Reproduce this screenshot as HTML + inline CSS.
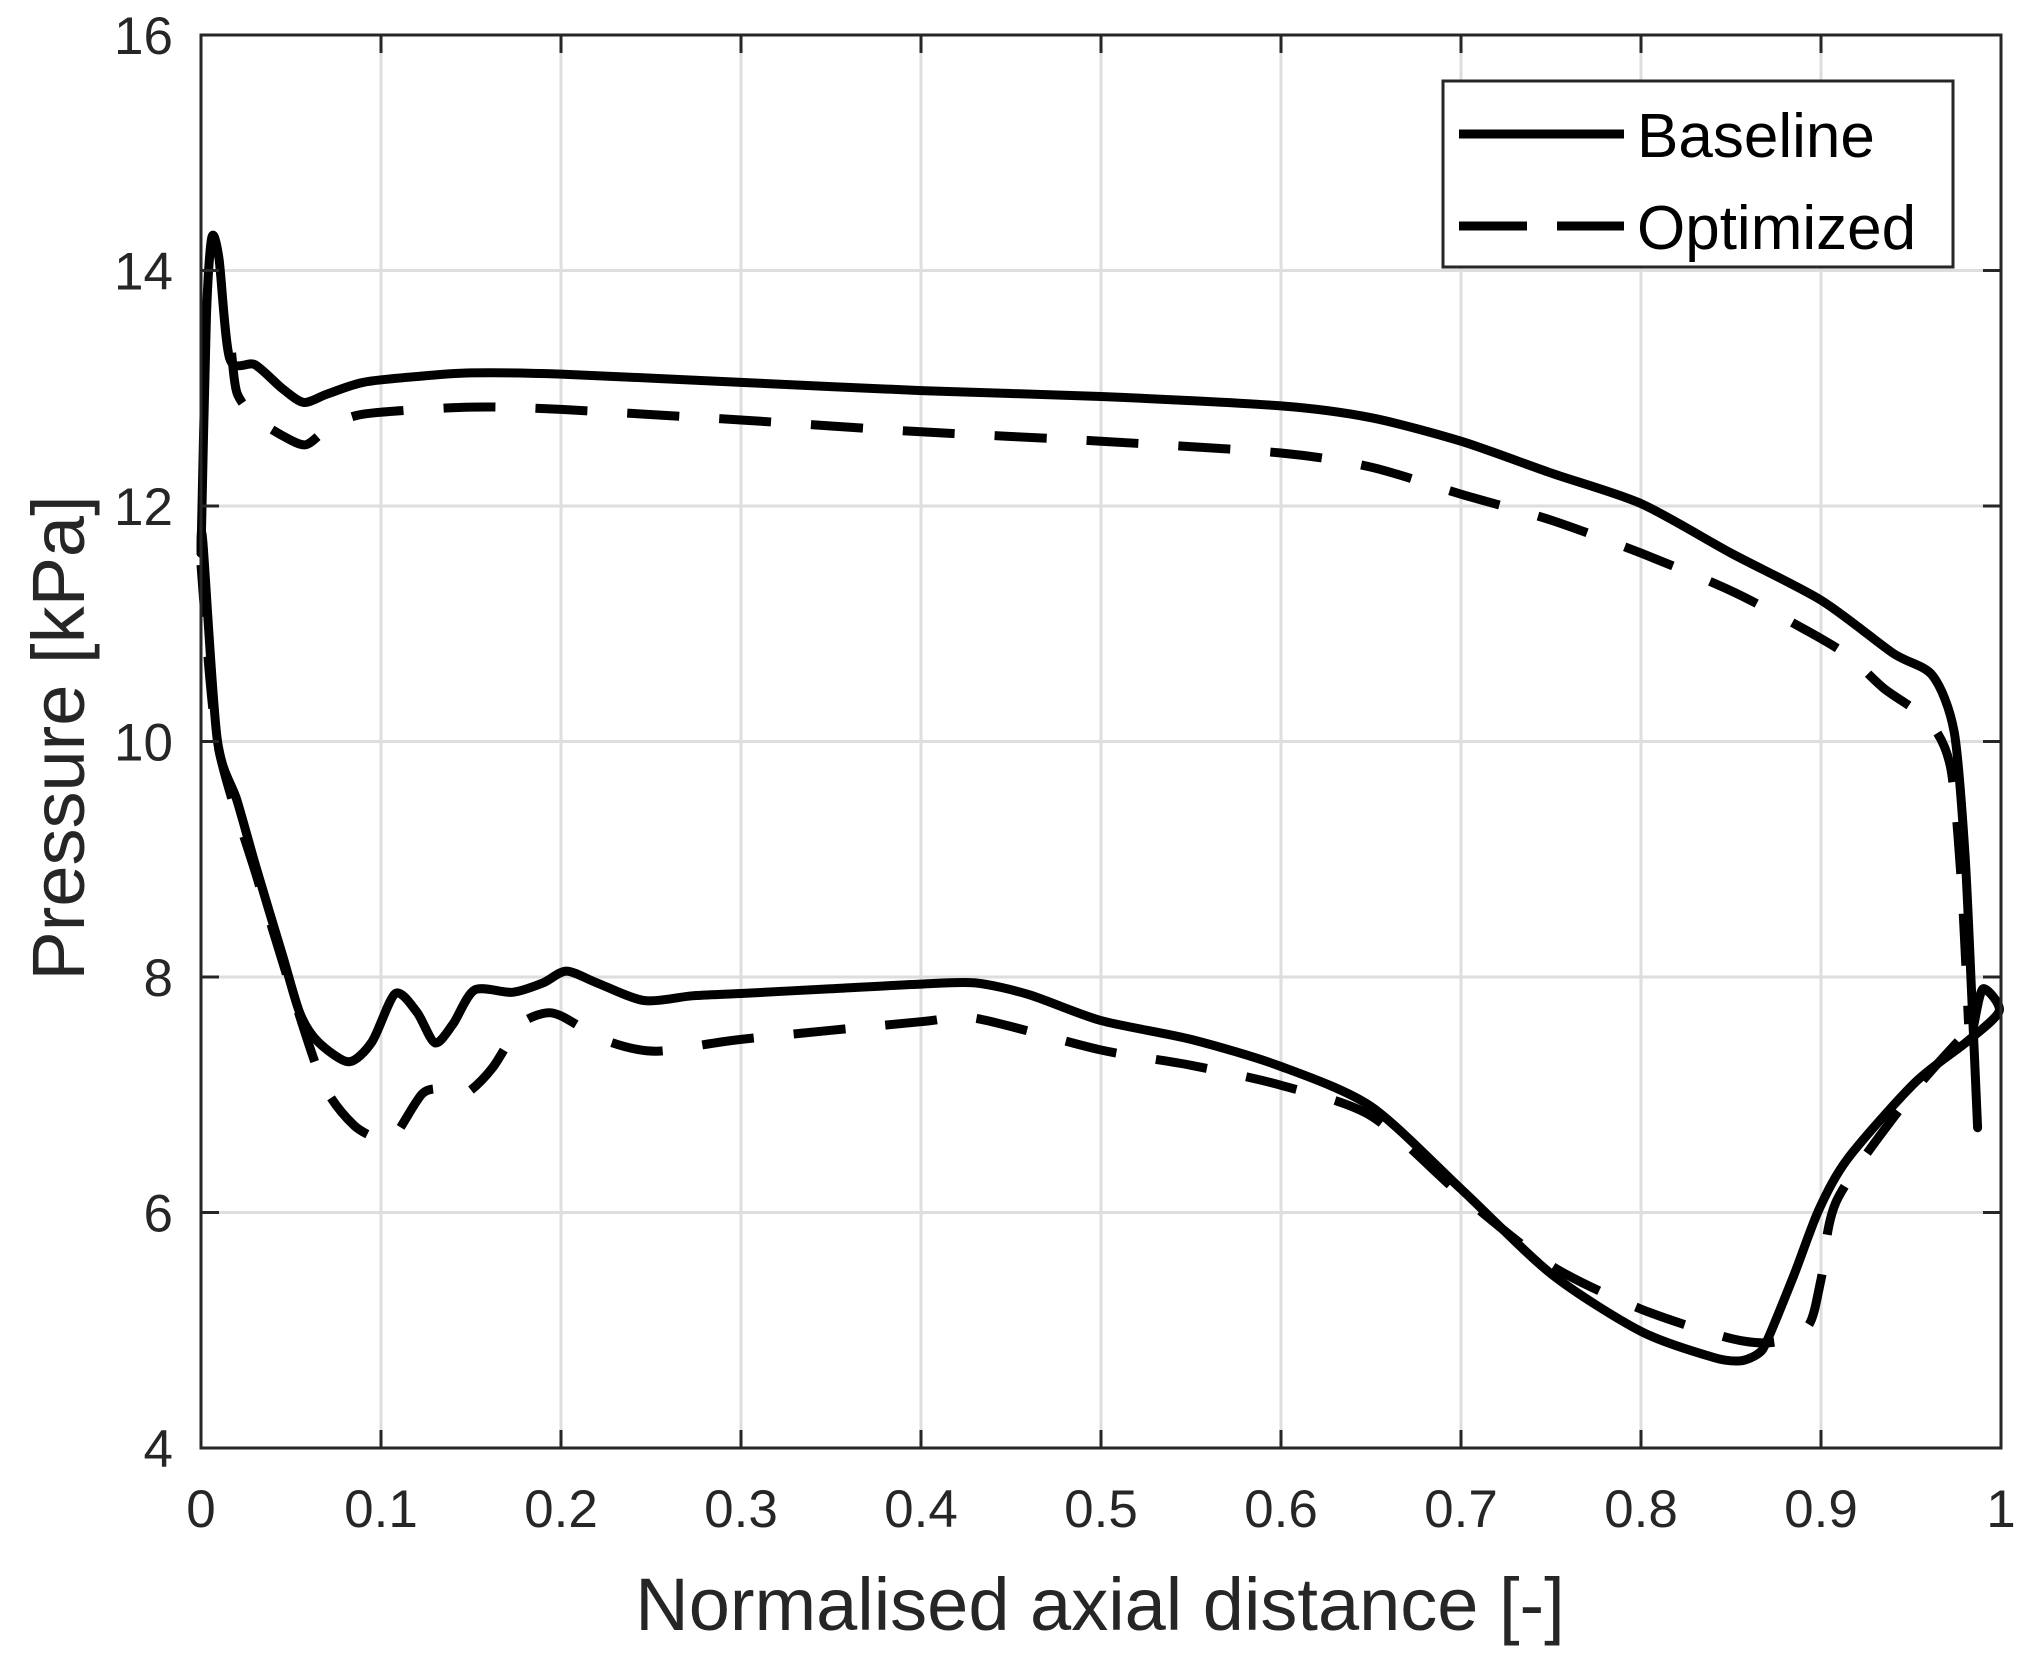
<!DOCTYPE html>
<html><head><meta charset="utf-8"><style>
html,body{margin:0;padding:0;background:#fff;}
svg{display:block;}
text{font-family:"Liberation Sans",Arial,sans-serif;fill:#262626;}
</style></head><body>
<svg id="chart" width="2024" height="1663" viewBox="0 0 2024 1663" xmlns="http://www.w3.org/2000/svg"></svg>
<script>
const xTicks = [0, 0.1, 0.2, 0.3, 0.4, 0.5, 0.6, 0.7, 0.8, 0.9, 1];
const xTickLabels = ["0","0.1","0.2","0.3","0.4","0.5","0.6","0.7","0.8","0.9","1"];
const yTicks = [4, 6, 8, 10, 12, 14, 16];
const yTickLabels = ["4","6","8","10","12","14","16"];

const baseUpperX = [0,0.003,0.006,0.01,0.016,0.03,0.045,0.057,0.07,0.09,0.12,0.15,0.2,0.3,0.4,0.5,0.6,0.65,0.7,0.75,0.8,0.85,0.9,0.94,0.962,0.974,0.98,0.984,0.987];
const baseUpperY = [11.6,13.6,14.28,14.1,13.25,13.2,13.0,12.88,12.95,13.05,13.1,13.13,13.12,13.05,12.98,12.93,12.85,12.75,12.55,12.28,12.02,11.6,11.2,10.75,10.56,10.08,9.04,7.75,6.72];
const baseLowerX = [0,0.001,0.009,0.02,0.031,0.045,0.055,0.065,0.082,0.095,0.108,0.12,0.13,0.14,0.152,0.173,0.19,0.203,0.22,0.246,0.273,0.3,0.35,0.4,0.43,0.46,0.5,0.55,0.6,0.65,0.7,0.75,0.8,0.84,0.855,0.865,0.87,0.885,0.899,0.915,0.952,0.981,0.999,0.99,0.985];
const baseLowerY = [11.6,11.7,10.02,9.5,8.91,8.2,7.69,7.45,7.28,7.45,7.86,7.7,7.44,7.6,7.89,7.87,7.95,8.05,7.95,7.8,7.84,7.86,7.9,7.94,7.95,7.85,7.63,7.47,7.24,6.9,6.2,5.48,4.99,4.77,4.74,4.8,4.91,5.47,6.03,6.46,7.1,7.45,7.71,7.9,7.6];
const optUpperX = [0.017,0.02,0.03,0.045,0.058,0.07,0.09,0.15,0.2,0.3,0.4,0.5,0.6,0.65,0.7,0.75,0.8,0.85,0.89,0.915,0.935,0.96,0.972,0.978,0.982];
const optUpperY = [13.3,12.96,12.75,12.6,12.52,12.65,12.78,12.84,12.82,12.73,12.63,12.55,12.45,12.33,12.1,11.88,11.6,11.28,10.96,10.73,10.45,10.17,9.78,8.8,7.6];
const optLowerX = [0,0.009,0.031,0.05,0.068,0.085,0.1,0.108,0.123,0.135,0.147,0.162,0.177,0.19,0.2,0.225,0.253,0.3,0.4,0.43,0.5,0.55,0.6,0.65,0.7,0.75,0.8,0.85,0.875,0.893,0.9,0.909,0.95,0.985];
const optLowerY = [11.5,10.0,8.85,7.9,7.09,6.74,6.62,6.66,7.01,7.05,7.01,7.23,7.59,7.69,7.67,7.46,7.37,7.47,7.62,7.65,7.38,7.25,7.08,6.82,6.15,5.55,5.18,4.93,4.9,5.04,5.43,6.11,7.0,7.6];

const L=201, R=2001, T=35, B=1448;
const xMin=0, xMax=1, yMin=4, yMax=16;
function sx(v){return L+(v-xMin)/(xMax-xMin)*(R-L);}
function sy(v){return B-(v-yMin)/(yMax-yMin)*(B-T);}
const NS="http://www.w3.org/2000/svg";
const svg=document.getElementById('chart');
function mk(tag,attrs,parent){const e=document.createElementNS(NS,tag);for(const k in attrs)e.setAttribute(k,attrs[k]);(parent||svg).appendChild(e);return e;}

xTicks.forEach((t,i)=>{
  const g=mk('line',{x1:sx(t),x2:sx(t),y1:T,y2:B,stroke:'#dedede','stroke-width':3});
  
  
});
yTicks.forEach((t,i)=>{
  const g=mk('line',{x1:L,x2:R,y1:sy(t),y2:sy(t),stroke:'#dedede','stroke-width':3});
  
  
});

function pathFrom(xs,ys){
  const P=xs.map((x,i)=>[sx(x),sy(ys[i])]);
  let d='M'+P[0][0].toFixed(1)+','+P[0][1].toFixed(1);
  for(let i=0;i<P.length-1;i++){
    const p0=P[i>0?i-1:i],p1=P[i],p2=P[i+1],p3=P[i+2<P.length?i+2:i+1];
    const k=1/6*0.8;
    const c1=[p1[0]+(p2[0]-p0[0])*k,p1[1]+(p2[1]-p0[1])*k];
    const c2=[p2[0]-(p3[0]-p1[0])*k,p2[1]-(p3[1]-p1[1])*k];
    d+=' C'+c1[0].toFixed(1)+','+c1[1].toFixed(1)+' '+c2[0].toFixed(1)+','+c2[1].toFixed(1)+' '+p2[0].toFixed(1)+','+p2[1].toFixed(1);
  }
  return d;
}
function series(xs,ys,dashed,name){
  const p=mk('path',{d:pathFrom(xs,ys),fill:'none',stroke:'#000','stroke-width':9,'stroke-linejoin':'round','stroke-linecap':dashed?'butt':'round'});
  if(dashed)p.setAttribute('stroke-dasharray','52 40');
  
  
}
series(optUpperX,optUpperY,true,'optimized-upper-line');
series(optLowerX,optLowerY,true,'optimized-lower-line');
series(baseUpperX,baseUpperY,false,'baseline-upper-line');
series(baseLowerX,baseLowerY,false,'baseline-lower-line');

const box=mk('rect',{x:L,y:T,width:R-L,height:B-T,fill:'none',stroke:'#262626','stroke-width':3});



xTicks.forEach((t,i)=>{
  mk('line',{x1:sx(t),x2:sx(t),y1:B,y2:B-18,stroke:'#262626','stroke-width':3});
  mk('line',{x1:sx(t),x2:sx(t),y1:T,y2:T+18,stroke:'#262626','stroke-width':3});
  const tx=mk('text',{x:sx(t),y:1527,'font-size':53,'text-anchor':'middle'});
  tx.textContent=xTickLabels[i];
  
  
});
yTicks.forEach((t,i)=>{
  mk('line',{x1:L,x2:L+18,y1:sy(t),y2:sy(t),stroke:'#262626','stroke-width':3});
  mk('line',{x1:R,x2:R-18,y1:sy(t),y2:sy(t),stroke:'#262626','stroke-width':3});
  const tx=mk('text',{x:173,y:sy(t)+19,'font-size':53,'text-anchor':'end'});
  tx.textContent=yTickLabels[i];
  
  
});
</script>
<svg style="position:absolute;left:0;top:0" width="2024" height="1663">
  <text x="1100" y="1630" font-size="74" text-anchor="middle" style="font-family:'Liberation Sans',sans-serif;fill:#262626">Normalised axial distance [-]</text>
  <text transform="translate(84,738) rotate(-90)" font-size="74" text-anchor="middle" style="font-family:'Liberation Sans',sans-serif;fill:#262626">Pressure [kPa]</text>
  <g>
    <rect x="1443" y="81" width="510" height="186" fill="#fff" stroke="#262626" stroke-width="3"/>
    <line x1="1459" y1="134" x2="1624" y2="134" stroke="#000" stroke-width="9"/>
    <text x="1637" y="157" font-size="62" style="font-family:'Liberation Sans',sans-serif;fill:#000">Baseline</text>
    <line x1="1459" y1="226" x2="1624" y2="226" stroke="#000" stroke-width="9" stroke-dasharray="68 30"/>
    <text x="1637" y="249" font-size="62" style="font-family:'Liberation Sans',sans-serif;fill:#000">Optimized</text>
  </g>
</svg>
</body></html>
